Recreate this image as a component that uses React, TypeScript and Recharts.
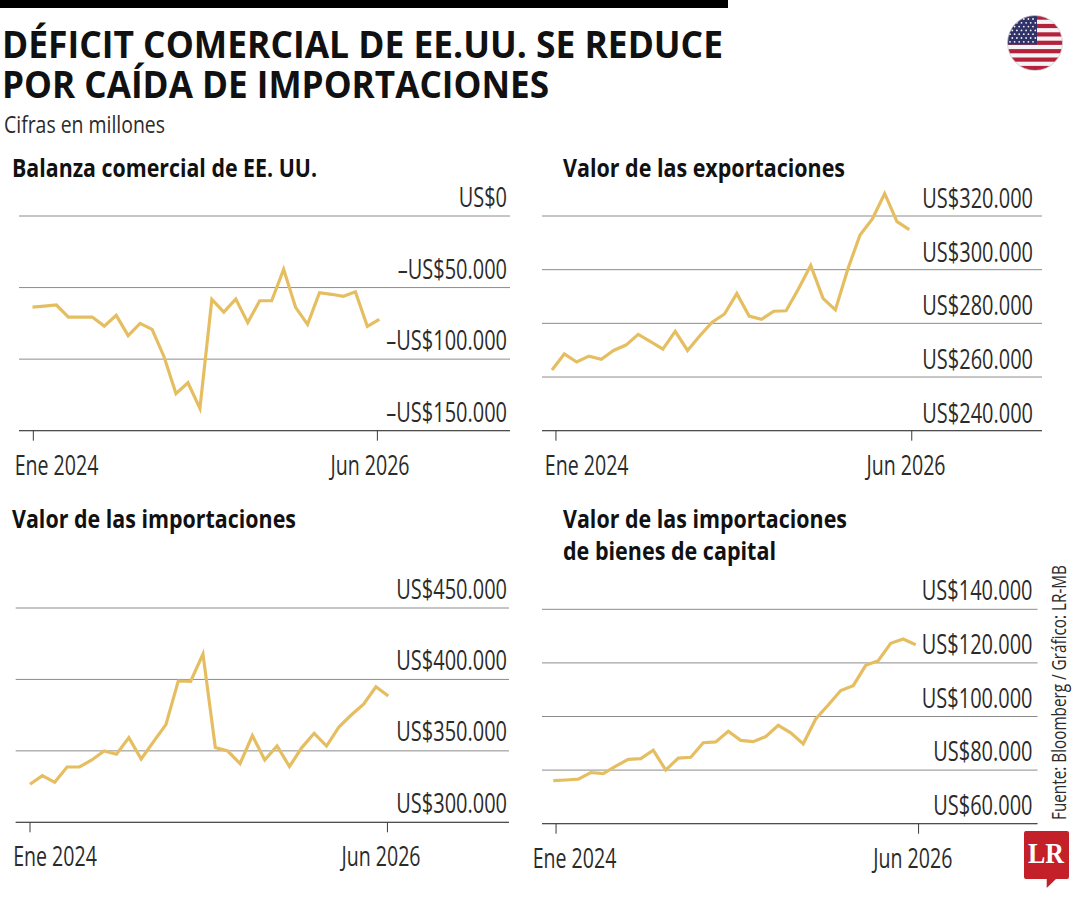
import { LineChart, Line, XAxis, YAxis, CartesianGrid } from "recharts"

// Meses de la serie: enero 2024 a junio 2026
const months = [
  "Ene 2024", "Feb 2024", "Mar 2024", "Abr 2024", "May 2024", "Jun 2024",
  "Jul 2024", "Ago 2024", "Sep 2024", "Oct 2024", "Nov 2024", "Dic 2024",
  "Ene 2025", "Feb 2025", "Mar 2025", "Abr 2025", "May 2025", "Jun 2025",
  "Jul 2025", "Ago 2025", "Sep 2025", "Oct 2025", "Nov 2025", "Dic 2025",
  "Ene 2026", "Feb 2026", "Mar 2026", "Abr 2026", "May 2026", "Jun 2026",
]

const balanza = [
  -63600, -62900, -62200, -70600, -70600, -70600, -76900, -69400, -83600, -75000,
  -79200, -98300, -124100, -116500, -134400, -58200, -67100, -58000, -74500, -59200,
  -59200, -37300, -63800, -75700, -53600, -54700, -56100, -52900, -77100, -72200,
]
const exportaciones = [
  262600, 268600, 265600, 267800, 266600, 269900, 271900, 275900, 273200, 270400,
  277000, 269900, 275400, 280400, 283500, 291100, 282700, 281500, 284500, 284700,
  292800, 301600, 289300, 285000, 300100, 312900, 318900, 328400, 317900, 314900,
]
const importaciones = [
  326600, 332700, 328000, 338700, 338700, 343600, 349900, 347600, 359300, 344300,
  356500, 368400, 398900, 398700, 417800, 352300, 349900, 341100, 360700, 343600,
  353400, 339000, 352300, 362300, 353400, 366700, 375100, 382600, 394900, 388400,
]
const bienesCapital = [
  76100, 76300, 76600, 79100, 78700, 81500, 84000, 84300, 87400, 80000,
  84500, 84800, 90200, 90500, 94500, 91100, 90600, 92500, 96700, 93900,
  89800, 99100, 104300, 109700, 111500, 119100, 120800, 127300, 128900, 126800,
]

const balanzaTicks = [0, -50000, -100000, -150000]
const exportacionesTicks = [320000, 300000, 280000, 260000, 240000]
const importacionesTicks = [450000, 400000, 350000, 300000]
const bienesCapitalTicks = [140000, 120000, 100000, 80000, 60000]

const xLabels = ["Ene 2024", "Jun 2026"]

const INK = "#2b2b2b"
const GOLD = "#E6BE62"
const FONT = "'Open Sans', sans-serif"

// Posiciones de cada panel en la página
const panels = [
  {
    values: balanza, ticks: balanzaTicks, yDomain: [-150000, 0], left: 0, top: 170, width: 530, height: 320,
    plotL: 19, plotR: 510, plotT: 216, plotB: 430.7, lineStart: 32.5, lineEnd: 379.3,
    xTicks: [0.07, 28.84], xCenters: [56.5, 370], labelRight: 507, labelLift: 9,
  },
  {
    // el máximo de la serie pasa de la última línea: el dominio sube hasta 332.000
    values: exportaciones, ticks: exportacionesTicks, yDomain: [240000, 332000], left: 530, top: 170, width: 550, height: 320,
    plotL: 542, plotR: 1042, plotT: 183.8, plotB: 430.7, lineStart: 552, lineEnd: 909.3,
    xTicks: [0.32, 29.2], xCenters: [586.7, 906], labelRight: 1033, labelLift: 8,
  },
  {
    values: importaciones, ticks: importacionesTicks, yDomain: [300000, 450000], left: 0, top: 560, width: 530, height: 320,
    plotL: 15.7, plotR: 509, plotT: 608, plotB: 822.3, lineStart: 30, lineEnd: 388.3,
    xTicks: [0, 28.93], xCenters: [55, 381], labelRight: 507, labelLift: 9.5,
  },
  {
    values: bienesCapital, ticks: bienesCapitalTicks, yDomain: [60000, 140000], left: 530, top: 560, width: 550, height: 320,
    plotL: 542, plotR: 1037.5, plotT: 609.3, plotB: 823.7, lineStart: 553.3, lineEnd: 915.7,
    xTicks: [0.22, 29.23], xCenters: [574.5, 912.8], labelRight: 1032.5, labelLift: 9,
  },
]

function formatUsd(value: number) {
  const digits = Math.abs(value).toString().replace(/\B(?=(\d{3})+$)/g, ".")
  return `${value < 0 ? "–" : ""}US$${digits}`
}

// Texto condensado: escala horizontal sobre Open Sans
function NarrowText({ x, y, anchor = "start", size = 27, scale = 0.72, fill = INK, children }: any) {
  return (
    <text
      transform={`translate(${x},${y}) scale(${scale},1)`}
      textAnchor={anchor}
      fontFamily={FONT}
      fontSize={size}
      fill={fill}
    >
      {children}
    </text>
  )
}

function Panel({ panel }: { panel: (typeof panels)[number] }) {
  const { values, ticks, yDomain, left, top, width, height, plotL, plotR, plotT, plotB, lineStart, lineEnd } = panel
  const rows = months.map((month, i) => ({ i, month, value: values[i] }))
  const perMonth = (lineEnd - lineStart) / (months.length - 1)
  const xDomain = [-(lineStart - plotL) / perMonth, months.length - 1 + (plotR - lineEnd) / perMonth]

  return (
    <div style={{ position: "absolute", left, top, width, height }}>
      <LineChart
        width={width}
        height={height}
        data={rows}
        margin={{ left: plotL - left, right: left + width - plotR - 1, top: plotT - top, bottom: 0 }}
      >
        <CartesianGrid vertical={false} horizontalValues={ticks} stroke="#8c8c8c" strokeWidth={1} />
        <XAxis
          type="number"
          dataKey="i"
          domain={xDomain}
          ticks={panel.xTicks}
          interval={0}
          height={top + height - plotB}
          stroke="#3a3a3a"
          tickSize={10}
          tick={(props: any) => (
            <NarrowText x={panel.xCenters[props.index] - left} y={plotB - top + 44} anchor="middle" scale={0.725}>
              {xLabels[props.index]}
            </NarrowText>
          )}
        />
        <YAxis
          orientation="right"
          type="number"
          domain={yDomain}
          ticks={ticks}
          interval={0}
          width={1}
          axisLine={false}
          tickLine={false}
          tick={(props: any) => (
            <NarrowText x={panel.labelRight - left} y={props.y - panel.labelLift} anchor="end" scale={0.74}>
              {formatUsd(props.payload.value)}
            </NarrowText>
          )}
        />
        <Line
          type="linear"
          dataKey="value"
          stroke={GOLD}
          strokeWidth={3.2}
          strokeLinejoin="miter"
          dot={false}
          isAnimationActive={false}
        />
      </LineChart>
    </div>
  )
}

function Flag() {
  const stripes = [0, 1, 2, 3, 4, 5, 6]
  const stars: [number, number][] = []
  for (let row = 0; row < 7; row++) {
    for (let col = 0; col < 6; col++) {
      stars.push([1010 + col * 4.6 + (row % 2) * 2.3, 19 + row * 3.8])
    }
  }
  return (
    <g>
      <defs>
        <clipPath id="flag-clip">
          <circle cx={1035} cy={43} r={27.5} />
        </clipPath>
      </defs>
      <g clipPath="url(#flag-clip)">
        <rect x={1007} y={15} width={56} height={56} fill="#f4f4f6" />
        {stripes.map((s) => (
          <rect key={s} x={1007} y={15.5 + s * 8.4} width={56} height={4.2} fill="#b5213a" />
        ))}
        <rect x={1007} y={15} width={30} height={29.5} fill="#2f3368" />
        {stars.map(([x, y], i) => (
          <circle key={i} cx={x} cy={y} r={0.9} fill="#f4f4f6" />
        ))}
      </g>
      <circle cx={1035} cy={43} r={27.5} fill="none" stroke="#cfcfd4" strokeWidth={0.8} />
    </g>
  )
}

function Logo() {
  return (
    <g>
      <path d="M1026 831 H1067 Q1069 831 1069 833 V877 Q1069 879 1067 879 H1056 L1046.7 888 V879 H1026 Q1024 879 1024 877 V833 Q1024 831 1026 831 Z" fill="#C4202A" />
      <text
        x={1028}
        y={863}
        fontFamily="'Liberation Serif', serif"
        fontWeight={700}
        fontSize={29}
        fill="#fff"
        textLength={36}
        lengthAdjust="spacingAndGlyphs"
      >
        LR
      </text>
    </g>
  )
}

export default function App() {
  const heading = { fontFamily: FONT, fontWeight: 700, fill: "#111", lengthAdjust: "spacingAndGlyphs" } as const
  return (
    <div style={{ position: "absolute", left: 0, top: 0, width: 1080, height: 900, background: "#fff" }}>
      <svg width={1080} height={900} style={{ position: "absolute", left: 0, top: 0 }}>
        <rect x={0} y={0} width={728} height={8} fill="#000" />
        <text x={2} y={58} fontSize={38} textLength={721} {...heading}>DÉFICIT COMERCIAL DE EE.UU. SE REDUCE</text>
        <text x={2} y={98} fontSize={38} textLength={547} {...heading}>POR CAÍDA DE IMPORTACIONES</text>
        <text x={4} y={133} fontFamily={FONT} fontSize={24} fill={INK} textLength={161} lengthAdjust="spacingAndGlyphs">Cifras en millones</text>
        <text x={12} y={177} fontSize={25} textLength={305} {...heading}>Balanza comercial de EE. UU.</text>
        <text x={563} y={177} fontSize={25} textLength={282} {...heading}>Valor de las exportaciones</text>
        <text x={12} y={528} fontSize={25} textLength={284} {...heading}>Valor de las importaciones</text>
        <text x={563} y={528} fontSize={25} textLength={284} {...heading}>Valor de las importaciones</text>
        <text x={563} y={560} fontSize={25} textLength={213} {...heading}>de bienes de capital</text>
        <text
          transform="translate(1066,820) rotate(-90)"
          fontFamily={FONT}
          fontSize={20}
          fill={INK}
          textLength={255}
          lengthAdjust="spacingAndGlyphs"
        >
          Fuente: Bloomberg / Gráfico: LR-MB
        </text>
        <Flag />
        <Logo />
      </svg>
      {panels.map((panel, i) => (
        <Panel key={i} panel={panel} />
      ))}
    </div>
  )
}
